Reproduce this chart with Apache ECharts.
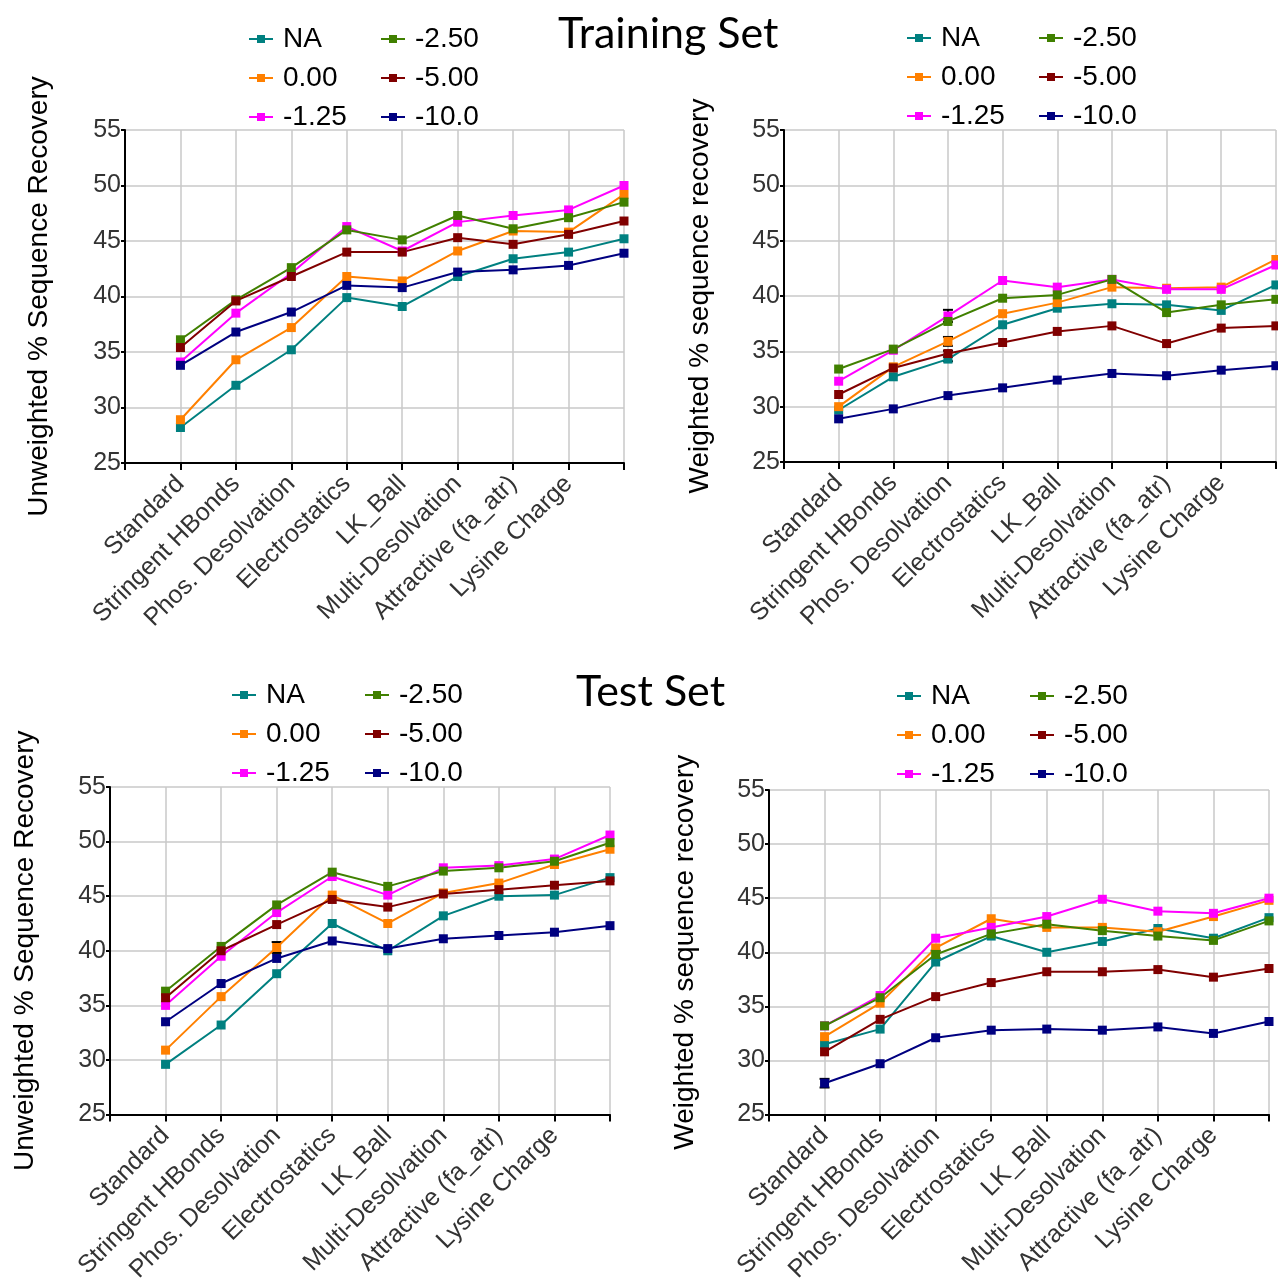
<!DOCTYPE html>
<html>
<head>
<meta charset="utf-8">
<title>Sequence recovery</title>
<script src="https://cdn.jsdelivr.net/npm/echarts@6/dist/echarts.min.js"></script>
<style>
  html, body { margin: 0; padding: 0; background: #fff; }
  #main { width: 1278px; height: 1285px; }
</style>
</head>
<body>
<div id="main"></div>
<script>
// 分类（首尾为空位，第9个点无标签）
var categories = ['', 'Standard', 'Stringent HBonds', 'Phos. Desolvation', 'Electrostatics',
    'LK_Ball', 'Multi-Desolvation', 'Attractive (fa_atr)', 'Lysine Charge', ''];
var seriesNames = ['NA', '0.00', '-1.25', '-2.50', '-5.00', '-10.0'];
var seriesColors = ['#008080', '#ff8000', '#ff00ff', '#408000', '#800000', '#000080'];
var yTicks = [25, 55, 5]; // min, max, interval

// Training Set - Unweighted（行顺序同 seriesNames）
var trainUnweighted = [
    [28.2, 32.0, 35.2, 39.9, 39.1, 41.8, 43.4, 44.0, 45.2],
    [28.9, 34.3, 37.2, 41.8, 41.4, 44.1, 45.9, 45.8, 49.2],
    [34.1, 38.5, 42.1, 46.3, 44.1, 46.7, 47.3, 47.8, 50.0],
    [36.1, 39.7, 42.6, 46.0, 45.1, 47.3, 46.1, 47.1, 48.5],
    [35.4, 39.6, 41.8, 44.0, 44.0, 45.3, 44.7, 45.6, 46.8],
    [33.8, 36.8, 38.6, 41.0, 40.8, 42.2, 42.4, 42.8, 43.9]
];
// Training Set - Weighted
var trainWeighted = [
    [29.7, 32.7, 34.3, 37.4, 38.9, 39.3, 39.2, 38.7, 41.0],
    [30.0, 33.6, 35.9, 38.4, 39.4, 40.8, 40.7, 40.8, 43.3],
    [32.3, 35.1, 38.2, 41.4, 40.8, 41.5, 40.6, 40.6, 42.8],
    [33.4, 35.2, 37.7, 39.8, 40.1, 41.5, 38.5, 39.2, 39.7],
    [31.1, 33.5, 34.8, 35.8, 36.8, 37.3, 35.7, 37.1, 37.3],
    [28.9, 29.8, 31.0, 31.7, 32.4, 33.0, 32.8, 33.3, 33.7]
];
// Test Set - Unweighted
var testUnweighted = [
    [29.6, 33.2, 37.9, 42.5, 40.0, 43.2, 45.0, 45.1, 46.7],
    [30.9, 35.8, 40.3, 45.1, 42.5, 45.3, 46.2, 47.9, 49.3],
    [35.0, 39.5, 43.5, 46.8, 45.1, 47.6, 47.8, 48.4, 50.6],
    [36.3, 40.4, 44.2, 47.2, 45.9, 47.3, 47.6, 48.2, 49.9],
    [35.7, 40.0, 42.4, 44.7, 44.0, 45.2, 45.6, 46.0, 46.4],
    [33.5, 37.0, 39.3, 40.9, 40.2, 41.1, 41.4, 41.7, 42.3]
];
// Test Set - Weighted
var testWeighted = [
    [31.5, 32.9, 39.1, 41.5, 40.0, 41.0, 42.2, 41.3, 43.2],
    [32.2, 35.3, 40.4, 43.1, 42.3, 42.3, 41.9, 43.3, 44.8],
    [33.2, 36.0, 41.3, 42.3, 43.3, 44.9, 43.8, 43.6, 45.0],
    [33.2, 35.8, 39.8, 41.7, 42.6, 42.0, 41.5, 41.1, 42.9],
    [30.8, 33.8, 35.9, 37.2, 38.2, 38.2, 38.4, 37.7, 38.5],
    [27.9, 29.7, 32.1, 32.8, 32.9, 32.8, 33.1, 32.5, 33.6]
];
// 误差棒 [分类下标, 均值, 误差]
var trainUnweightedErr = [];
var trainWeightedErr = [[3, 38.2, 0.55], [3, 35.9, 0.4], [3, 34.8, 0.25], [3, 34.3, 0.2]];
var testUnweightedErr = [[3, 40.3, 0.5]];
var testWeightedErr = [[1, 27.9, 0.4], [3, 39.8, 0.35]];

var panels = [
    { data: trainUnweighted, err: trainUnweightedErr, yName: 'Unweighted % Sequence Recovery',
      grid: { left: 125, top: 130, width: 499, height: 333 }, nameGap: 72,
      legendLeft: [248, 380], legendTop: 25 },
    { data: trainWeighted, err: trainWeightedErr, yName: 'Weighted % sequence recovery',
      grid: { left: 784, top: 130, width: 500, height: 332 }, nameGap: 70,
      legendLeft: [906, 1038], legendTop: 24 },
    { data: testUnweighted, err: testUnweightedErr, yName: 'Unweighted % Sequence Recovery',
      grid: { left: 110, top: 787, width: 500, height: 333 }, nameGap: 71,
      legendLeft: [231, 364], legendTop: 681 },
    { data: testWeighted, err: testWeightedErr, yName: 'Weighted % sequence recovery',
      grid: { left: 769, top: 790, width: 500, height: 333 }, nameGap: 70,
      legendLeft: [896, 1029], legendTop: 682 }
];

var FONT = "'Liberation Sans', Arial, sans-serif";

function renderErrorBar(params, api) {
    var x = api.value(0), y = api.value(1), e = api.value(2);
    var top = api.coord([x, y + e]);
    var bot = api.coord([x, y - e]);
    var w = 5;
    var style = { stroke: '#000', lineWidth: 2 };
    return {
        type: 'group',
        children: [
            { type: 'line', shape: { x1: top[0], y1: top[1], x2: bot[0], y2: bot[1] }, style: style },
            { type: 'line', shape: { x1: top[0] - w, y1: top[1], x2: top[0] + w, y2: top[1] }, style: style },
            { type: 'line', shape: { x1: bot[0] - w, y1: bot[1], x2: bot[0] + w, y2: bot[1] }, style: style }
        ]
    };
}

function renderChart() {
    var dom = document.getElementById('main');
    var myChart = echarts.init(dom, null, { renderer: 'canvas' });
    var grids = [], xAxes = [], yAxes = [], series = [], legends = [];

    panels.forEach(function (p, i) {
        grids.push(p.grid);
        xAxes.push({
            type: 'category',
            gridIndex: i,
            data: categories,
            boundaryGap: false,
            axisLine: { lineStyle: { color: '#000', width: 2 } },
            axisTick: { show: true, length: 7, lineStyle: { color: '#000', width: 2 } },
            axisLabel: { interval: 0, rotate: 45, fontSize: 25, color: '#333', fontFamily: FONT, margin: 17 },
            splitLine: { show: true, lineStyle: { color: '#c8c8c8', width: 1.5 } }
        });
        yAxes.push({
            type: 'value',
            gridIndex: i,
            min: yTicks[0],
            max: yTicks[1],
            interval: yTicks[2],
            name: p.yName,
            nameLocation: 'middle',
            nameGap: p.nameGap,
            nameTextStyle: { fontSize: 28, color: '#000', fontFamily: FONT },
            axisLine: { show: true, lineStyle: { color: '#000', width: 2 } },
            axisTick: { show: true, length: 4, lineStyle: { color: '#000', width: 2 } },
            axisLabel: { fontSize: 25, color: '#333', fontFamily: FONT, margin: 4 },
            splitLine: { show: true, lineStyle: { color: '#c8c8c8', width: 1.5 } }
        });
        p.data.forEach(function (vals, j) {
            series.push({
                type: 'line',
                name: seriesNames[j],
                xAxisIndex: i,
                yAxisIndex: i,
                data: ['-'].concat(vals),
                symbol: 'rect',
                symbolSize: 9,
                showAllSymbol: true,
                color: seriesColors[j],
                lineStyle: { width: 2, color: seriesColors[j] },
                itemStyle: { color: seriesColors[j] },
                emphasis: { disabled: true }
            });
        });
        if (p.err.length) {
            series.push({
                type: 'custom',
                name: 'err' + i,
                xAxisIndex: i,
                yAxisIndex: i,
                renderItem: renderErrorBar,
                data: p.err,
                z: 3
            });
        }
        [seriesNames.slice(0, 3), seriesNames.slice(3)].forEach(function (names, c) {
            legends.push({
                data: names,
                orient: 'vertical',
                left: p.legendLeft[c],
                top: p.legendTop,
                padding: 0,
                itemWidth: 24,
                itemHeight: 10,
                itemGap: 11,
                selectedMode: false,
                textStyle: { fontSize: 28, color: '#000', fontFamily: FONT, lineHeight: 28, padding: [0, 0, 0, 5] }
            });
        });
    });

    var option = {
        animation: false,
        backgroundColor: '#fff',
        title: [
            { text: 'Training Set', left: 553, top: 8, textStyle: { fontSize: 43, fontWeight: 'normal', color: '#000', fontFamily: 'Lato, sans-serif' } },
            { text: 'Test Set', left: 571, top: 666, textStyle: { fontSize: 43, fontWeight: 'normal', color: '#000', fontFamily: 'Lato, sans-serif' } }
        ],
        legend: legends,
        grid: grids,
        xAxis: xAxes,
        yAxis: yAxes,
        series: series
    };
    myChart.setOption(option);
}

renderChart();
</script>
</body>
</html>
